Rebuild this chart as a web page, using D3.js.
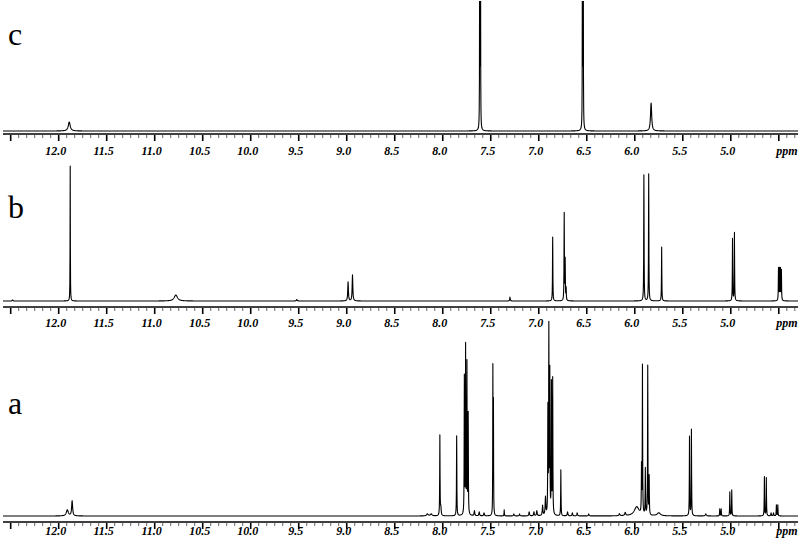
<!DOCTYPE html>
<html>
<head>
<meta charset="utf-8">
<script src="https://cdn.jsdelivr.net/npm/d3@7"></script>
<style>
body { margin: 0; background: #fff; }
svg { display: block; }
</style>
</head>
<body>
<div class="canvas"></div>
<script>
const width = 799
const height = 546

// peaks: [ppm, height above baseline, half width in ppm]
const peaksC = [
    [11.89, 9, 0.012],
    [7.615, 230, 0.0015], [7.607, 230, 0.0015],
    [6.545, 230, 0.0015], [6.537, 230, 0.0015],
    [5.83, 28, 0.007]
]

const peaksB = [
    [12.48, 1, 0.005],
    [11.88, 135, 0.0015],
    [10.78, 6, 0.02],
    [9.52, 1.5, 0.005],
    [8.986, 19, 0.004], [8.94, 26, 0.004],
    [7.30, 4, 0.003],
    [6.855, 64, 0.002],
    [6.735, 87, 0.002], [6.725, 40, 0.002], [6.715, 12, 0.002],
    [5.905, 126, 0.002], [5.855, 127, 0.002],
    [5.72, 54, 0.002],
    [4.982, 62, 0.002], [4.962, 68, 0.002],
    [4.503, 32, 0.002], [4.493, 31, 0.002], [4.483, 31, 0.002], [4.473, 30, 0.002]
]

const peaksA = [
    [11.91, 6, 0.012], [11.86, 15, 0.006],
    [8.16, 2, 0.01], [8.12, 2, 0.01],
    [8.03, 80, 0.002], [8.02, 8, 0.004],
    [7.855, 80, 0.002],
    [7.775, 137, 0.002], [7.762, 167, 0.002], [7.748, 150, 0.002], [7.735, 100, 0.002],
    [7.67, 5, 0.004], [7.62, 4, 0.004], [7.57, 3, 0.004],
    [7.478, 146, 0.0015], [7.472, 110, 0.0015],
    [7.36, 6, 0.002], [7.26, 2, 0.004], [7.20, 2, 0.004],
    [7.10, 4, 0.004], [7.05, 4, 0.004], [7.02, 5, 0.004],
    [6.96, 10, 0.004], [6.93, 18, 0.004],
    [6.905, 104, 0.002], [6.895, 184, 0.002], [6.885, 140, 0.002], [6.868, 130, 0.002], [6.855, 135, 0.002],
    [6.77, 46, 0.002],
    [6.70, 4, 0.004], [6.65, 3, 0.004], [6.60, 3, 0.004], [6.48, 2, 0.004],
    [6.16, 2, 0.006], [6.10, 3, 0.006],
    [5.98, 9, 0.03],
    [5.93, 46, 0.002], [5.92, 148, 0.002], [5.89, 46, 0.002], [5.865, 149, 0.002], [5.85, 38, 0.002],
    [5.75, 3, 0.02],
    [5.43, 79, 0.002], [5.41, 86, 0.002],
    [5.26, 2, 0.006],
    [5.115, 7, 0.002], [5.10, 7, 0.002],
    [5.01, 24, 0.002], [4.99, 26, 0.002],
    [4.65, 39, 0.002], [4.63, 38, 0.002],
    [4.58, 3, 0.003], [4.555, 3, 0.003],
    [4.525, 11, 0.002], [4.51, 11, 0.002]
]

const majorTicks = [12.5, 12.0, 11.5, 11.0, 10.5, 10.0, 9.5, 9.0, 8.5, 8.0, 7.5, 7.0, 6.5, 6.0, 5.5, 5.0, 4.5]
const tickLabels = ["12.0", "11.5", "11.0", "10.5", "10.0", "9.5", "9.0", "8.5", "8.0", "7.5", "7.0", "6.5", "6.0", "5.5", "5.0"]
const minorPerMajor = 6
const panelNames = ["c", "b", "a"]
const unitLabel = "ppm"

const svg = d3.select(".canvas")
    .append("svg")
    .attr("width", width)
    .attr("height", height)

const x = d3.scaleLinear()
    .domain([12.58, 4.3])
    .range([3, 798])

// vertical placement of the three stacked spectra
const layout = [
    {base: 131, axis: 134, label: 155, letter: 45, clipTop: 1},
    {base: 301, axis: 307, label: 327, letter: 218, clipTop: 150},
    {base: 516, axis: 522, label: 535, letter: 414, clipTop: 320}
]
const allPeaks = [peaksC, peaksB, peaksA]

const [lo, hi] = [x.domain()[1], x.domain()[0]]
const grid = d3.range(lo, hi, 0.002)

function spectrum(peaks) {
    const pts = grid.concat(peaks.map(p => p[0])).sort((a, b) => a - b)
    return pts.map(v => {
        let s = 0
        for (const [c, h, w] of peaks) {
            const d = v - c
            s += h * w * w / (d * d + w * w)
        }
        return [v, s]
    })
}

const minorStep = 0.5 / minorPerMajor
const minorTicks = d3.range(Math.ceil((lo - 4.5) / minorStep), Math.floor((hi - 4.5) / minorStep) + 1)
    .map(k => 4.5 + k * minorStep)
    .filter(v => Math.abs(v * 2 - Math.round(v * 2)) > 1e-6)

layout.forEach((L, i) => {
    const g = svg.append("g")

    const y = d3.scaleLinear()
        .domain([0, 100])
        .range([L.base, L.base - 100])

    const clipId = "clip" + i
    svg.append("clipPath").attr("id", clipId)
        .append("rect")
        .attr("x", 0).attr("y", L.clipTop)
        .attr("width", width).attr("height", L.base + 4 - L.clipTop)

    const line = d3.line()
        .x(d => x(d[0]))
        .y(d => y(d[1]))

    g.append("path")
        .datum(spectrum(allPeaks[i]))
        .attr("clip-path", `url(#${clipId})`)
        .attr("fill", "none")
        .attr("stroke", "#000")
        .attr("stroke-width", 1.1)
        .attr("stroke-linejoin", "round")
        .attr("d", line)

    // axis
    g.append("line")
        .attr("x1", x.range()[0]).attr("x2", x.range()[1])
        .attr("y1", L.axis).attr("y2", L.axis)
        .attr("stroke", "#000")
        .attr("stroke-width", 1.4)

    g.selectAll(".minor")
        .data(minorTicks)
        .enter()
        .append("line")
        .attr("x1", d => x(d)).attr("x2", d => x(d))
        .attr("y1", L.axis + 1).attr("y2", L.axis + 4)
        .attr("stroke", "#666")
        .attr("stroke-width", 1)

    g.selectAll(".major")
        .data(majorTicks)
        .enter()
        .append("line")
        .attr("x1", d => x(d)).attr("x2", d => x(d))
        .attr("y1", L.axis + 1).attr("y2", L.axis + 7)
        .attr("stroke", "#000")
        .attr("stroke-width", 1.6)

    g.selectAll(".lbl")
        .data(tickLabels)
        .enter()
        .append("text")
        .attr("x", d => x(+d) - 3)
        .attr("y", L.label)
        .attr("text-anchor", "middle")
        .attr("font-family", "Liberation Serif")
        .attr("font-weight", "bold")
        .attr("font-style", "italic")
        .attr("font-size", 12)
        .text(d => d)

    g.append("text")
        .attr("x", x.range()[1] - 11)
        .attr("y", L.label)
        .attr("text-anchor", "middle")
        .attr("font-family", "Liberation Serif")
        .attr("font-weight", "bold")
        .attr("font-style", "italic")
        .attr("font-size", 12)
        .text(unitLabel)

    g.append("text")
        .attr("x", 8)
        .attr("y", L.letter)
        .attr("font-family", "Liberation Serif")
        .attr("font-size", 32)
        .text(panelNames[i])
})
</script>
</body>
</html>
